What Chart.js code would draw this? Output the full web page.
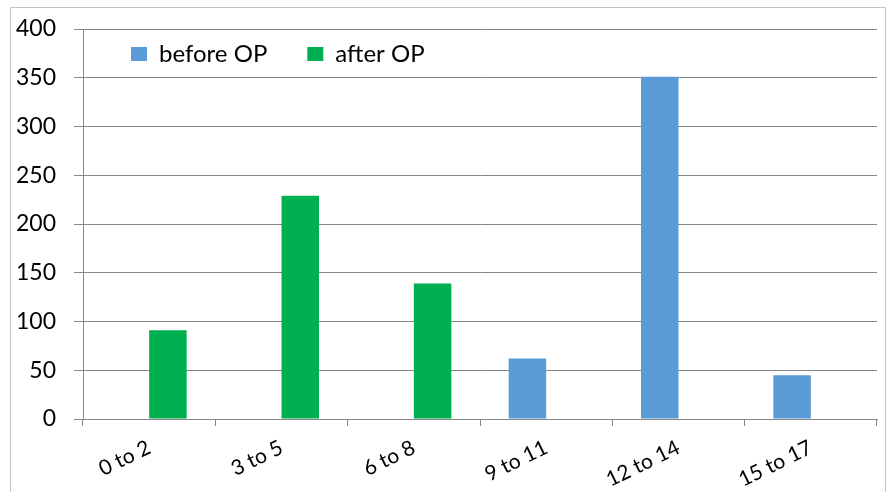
<!DOCTYPE html>
<html>
<head>
<meta charset="utf-8">
<script src="https://cdn.jsdelivr.net/npm/chart.js@4.4.1/dist/chart.umd.min.js"></script>
<style>
  html, body { margin: 0; padding: 0; background: #fff; overflow: hidden; }
  .wrap { position: relative; width: 887px; height: 492px; }
  .frame {
    position: absolute; left: 10px; top: 7px; width: 874px; height: 520px;
    border: 1px solid #c3c3c3; pointer-events: none;
  }
</style>
</head>
<body>
<div class="wrap">
  <canvas id="chart"></canvas>
  <div class="frame"></div>
</div>
<script>
const categories = ['0 to 2', '3 to 5', '6 to 8', '9 to 11', '12 to 14', '15 to 17'];
const beforeOP = [null, null, null, 62, 351, 45];
const afterOP = [91, 229, 139, null, null, null];
const yTicks = [0, 50, 100, 150, 200, 250, 300, 350, 400];

// legend sits inside the plot area, like the original spreadsheet chart
const legendInArea = {
  id: 'legendInArea',
  afterInit(chart) {
    const legend = chart.legend;
    const fit = legend.fit;
    legend.fit = function () {
      fit.call(this);
      this.height = 0;
    };
  },
  afterLayout(chart) {
    const legend = chart.legend;
    const area = chart.chartArea;
    const pad = legend.options.labels.padding;
    legend.left = area.left + 48 - pad;
    legend.top = area.top + 13 - pad;
    legend.right = chart.width;
    legend.bottom = legend.top + 80;
    legend.width = legend.right - legend.left;
    legend.height = legend.bottom - legend.top;
  }
};

Chart.defaults.font.family = 'Lato';
Chart.defaults.color = '#000';

const gridColor = '#878787';

new Chart(document.getElementById('chart'), {
  type: 'bar',
  data: {
    labels: categories,
    datasets: [
      {
        label: 'before OP',
        data: beforeOP,
        backgroundColor: '#5b9bd5',
        categoryPercentage: 0.567,
        barPercentage: 1
      },
      {
        label: 'after OP',
        data: afterOP,
        backgroundColor: '#00b050',
        categoryPercentage: 0.567,
        barPercentage: 1
      }
    ]
  },
  options: {
    responsive: true,
    maintainAspectRatio: false,
    animation: false,
    layout: { padding: { left: 0, right: 10, top: 29, bottom: 0 } },
    plugins: {
      tooltip: { enabled: false },
      legend: {
        position: 'top',
        align: 'start',
        labels: {
          boxWidth: 16,
          boxHeight: 14,
          padding: 40,
          color: '#000',
          font: { size: 24 }
        }
      }
    },
    scales: {
      x: {
        grid: {
          drawOnChartArea: false,
          color: gridColor,
          tickLength: 7
        },
        border: { color: gridColor },
        ticks: {
          minRotation: 26,
          maxRotation: 26,
          padding: 9,
          font: { size: 21 }
        },
        afterFit(scale) { scale.height = 73; }
      },
      y: {
        min: 0,
        max: 400,
        afterBuildTicks(scale) {
          scale.ticks = yTicks.map(v => ({ value: v }));
        },
        grid: { color: gridColor, tickLength: 9 },
        border: { color: gridColor },
        ticks: {
          padding: 18,
          font: { size: 23 }
        },
        afterFit(scale) {
          scale.width = 83;
          scale.paddingTop = 0;
          scale.paddingBottom = 0;
        }
      }
    }
  },
  plugins: [legendInArea]
});
</script>
</body>
</html>
